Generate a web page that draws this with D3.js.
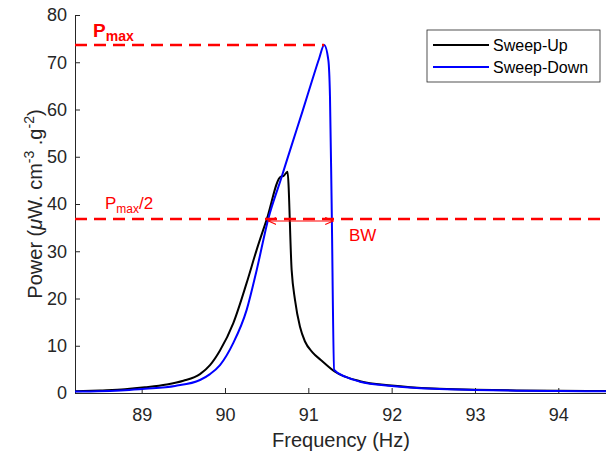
<!DOCTYPE html>
<html>
<head>
<meta charset="utf-8">
<script src="https://cdn.jsdelivr.net/npm/d3@7"></script>
<style>
  body { margin: 0; background: #fff; }
  text { font-family: "Liberation Sans", Arial, sans-serif; }
</style>
</head>
<body>
<div id="chart"></div>
<script>
// Sweep-Up (black) — frequency (Hz) / power
const upFreq = [88.2, 88.5, 88.8, 89.04, 89.3, 89.5, 89.7, 89.82, 89.94, 90.1, 90.26, 90.38, 90.5, 90.67, 90.7, 90.75, 90.8, 90.84, 90.9, 90.96, 91.05, 91.15, 91.32, 91.62, 92.0, 92.5, 93.0, 93.5, 94.0, 94.6];
const upPower = [0.35, 0.55, 0.8, 1.2, 1.8, 2.6, 4.0, 5.9, 9.0, 14.8, 23.3, 30.3, 36.7, 45.8, 45.9, 46.8, 26, 19.7, 14, 10.9, 8.6, 7.0, 4.5, 2.5, 1.6, 0.95, 0.7, 0.55, 0.45, 0.4];

// Sweep-Down (blue)
const downFreq = [88.2, 88.8, 89.04, 89.4, 89.7, 89.82, 89.94, 90.1, 90.26, 90.38, 90.52, 90.67, 90.81, 90.93, 91.05, 91.13, 91.19, 91.24, 91.26, 91.28, 91.31, 91.45, 91.62, 92.0, 92.5, 93.0, 93.5, 94.0, 94.6];
const downPower = [0.3, 0.6, 0.9, 1.5, 2.75, 4.0, 5.9, 10.6, 17.6, 26, 36.9, 45.2, 53.0, 59.6, 66.4, 70.8, 73.65, 70.5, 62.7, 40, 4.9, 3.4, 2.4, 1.5, 0.9, 0.65, 0.5, 0.42, 0.35];

const xTicks = [89, 90, 91, 92, 93, 94];
const yTicks = [0, 10, 20, 30, 40, 50, 60, 70, 80];
const seriesNames = ["Sweep-Up", "Sweep-Down"];
const seriesColors = ["#000000", "#0000ff"];

const pMax = d3.max(downPower);
const pHalf = pMax / 2;
const bwStart = 90.52, bwEnd = 91.3;

const width = 606, height = 455;
const margin = { left: 75, top: 15, bottom: 62 };

const svg = d3.select("#chart").append("svg")
  .attr("width", width).attr("height", height);

const x = d3.scaleLinear().domain([88.2, 94.6]).range([margin.left, 608.3]);
const y = d3.scaleLinear().domain([0, 80]).range([height - margin.bottom, margin.top]);

const axisColor = "#262626";

// x axis
const xAxis = svg.append("g")
  .attr("transform", `translate(0,${y(0)})`)
  .call(d3.axisBottom(x).tickValues(xTicks).tickFormat(d3.format("d"))
    .tickSize(-5).tickPadding(15).tickSizeOuter(0));
xAxis.select(".domain").attr("stroke", axisColor);
xAxis.selectAll(".tick line").attr("stroke", axisColor);
xAxis.selectAll("text").attr("fill", axisColor).style("font-size", "18px");

// y axis
const yAxis = svg.append("g")
  .attr("transform", `translate(${margin.left},0)`)
  .call(d3.axisLeft(y).tickValues(yTicks).tickSize(-5).tickPadding(8).tickSizeOuter(0));
yAxis.select(".domain").attr("stroke", axisColor);
yAxis.selectAll(".tick line").attr("stroke", axisColor);
yAxis.selectAll("text").attr("fill", axisColor).style("font-size", "18px");

// axis labels
svg.append("text")
  .attr("x", 341).attr("y", 447)
  .attr("text-anchor", "middle")
  .attr("fill", axisColor)
  .style("font-size", "20px")
  .text("Frequency (Hz)");

const yl = svg.append("text")
  .attr("transform", `translate(42,${(y(0) + y(80)) / 2}) rotate(-90)`)
  .attr("text-anchor", "middle")
  .attr("fill", axisColor)
  .style("font-size", "20px");
yl.append("tspan").text("Power (");
yl.append("tspan").style("font-style", "italic").text("\u03bc");
yl.append("tspan").text("W. cm");
yl.append("tspan").attr("dy", -8).style("font-size", "14px").text("-3");
yl.append("tspan").attr("dy", 8).text(" .g");
yl.append("tspan").attr("dy", -8).style("font-size", "14px").text("-2");
yl.append("tspan").attr("dy", 8).text(")");

// curves
const line = d3.line()
  .x(d => x(d[0]))
  .y(d => y(d[1]))
  .curve(d3.curveMonotoneX);

const series = [
  d3.zip(upFreq, upPower),
  d3.zip(downFreq, downPower)
];

svg.append("g").selectAll("path")
  .data(series)
  .enter().append("path")
  .attr("d", line)
  .attr("fill", "none")
  .attr("stroke", (d, i) => seriesColors[i])
  .attr("stroke-width", 2)
  .attr("stroke-linejoin", "round");

// Pmax and Pmax/2 dashed lines
const red = "#ff0000";
svg.append("line")
  .attr("x1", x(88.2)).attr("x2", x(91.19))
  .attr("y1", y(pMax)).attr("y2", y(pMax))
  .attr("stroke", red).attr("stroke-width", 2.5)
  .attr("stroke-dasharray", "12,7");

svg.append("line")
  .attr("x1", x(88.2)).attr("x2", width)
  .attr("y1", y(pHalf)).attr("y2", y(pHalf))
  .attr("stroke", red).attr("stroke-width", 2.5)
  .attr("stroke-dasharray", "12,7");

const pm = svg.append("text")
  .attr("x", 93).attr("y", 37)
  .attr("fill", red)
  .style("font-weight", "bold")
  .style("font-size", "19px");
pm.append("tspan").text("P");
pm.append("tspan").attr("dy", 4).style("font-size", "14px").text("max");

const ph = svg.append("text")
  .attr("x", 105).attr("y", 209)
  .attr("fill", red)
  .style("font-size", "17px");
ph.append("tspan").text("P");
ph.append("tspan").attr("dy", 4).style("font-size", "12px").text("max");
ph.append("tspan").attr("dy", -4).text("/2");

// BW arrow
const defs = svg.append("defs");
defs.append("marker")
  .attr("id", "ah")
  .attr("viewBox", "0 0 10 10")
  .attr("refX", 9).attr("refY", 5)
  .attr("markerWidth", 9).attr("markerHeight", 9)
  .attr("markerUnits", "userSpaceOnUse")
  .attr("orient", "auto-start-reverse")
  .append("path")
  .attr("d", "M0,1 L9,5 L0,9")
  .attr("fill", "none")
  .attr("stroke", red)
  .attr("stroke-width", 1.2);

svg.append("line")
  .attr("x1", x(bwStart)).attr("x2", x(bwEnd))
  .attr("y1", y(pHalf) + 2).attr("y2", y(pHalf) + 2)
  .attr("stroke", red).attr("stroke-width", 1.2)
  .attr("marker-start", "url(#ah)")
  .attr("marker-end", "url(#ah)");

svg.append("text")
  .attr("x", 349).attr("y", 241)
  .attr("fill", red)
  .style("font-size", "17px")
  .text("BW");

// legend
const legend = svg.append("g").attr("transform", "translate(427,30)");
legend.append("rect")
  .attr("width", 173).attr("height", 52)
  .attr("fill", "#fff")
  .attr("stroke", axisColor).attr("stroke-width", 0.8);
seriesNames.forEach((name, i) => {
  const ly = 15 + i * 22;
  legend.append("line")
    .attr("x1", 6).attr("x2", 62)
    .attr("y1", ly).attr("y2", ly)
    .attr("stroke", seriesColors[i]).attr("stroke-width", 2);
  legend.append("text")
    .attr("x", 66).attr("y", ly + 5.5)
    .attr("fill", "#000")
    .style("font-size", "16px")
    .text(name);
});
</script>
</body>
</html>
